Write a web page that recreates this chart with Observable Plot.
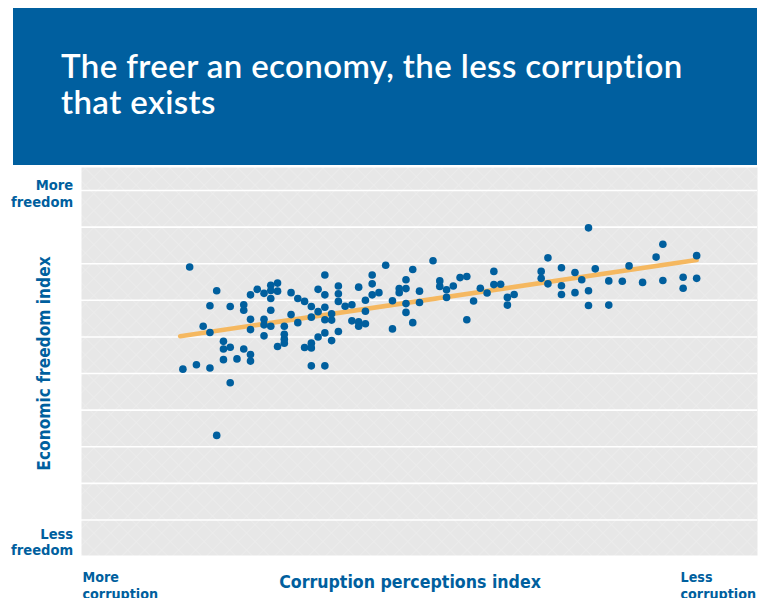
<!DOCTYPE html>
<html>
<head>
<meta charset="utf-8">
<script src="https://cdn.jsdelivr.net/npm/d3@7"></script>
<script src="https://cdn.jsdelivr.net/npm/@observablehq/plot@0.6"></script>
<style>
  html, body { margin: 0; padding: 0; background: #ffffff; }
  #wrap { position: relative; width: 762px; height: 598px; overflow: hidden; }
  #header { position: relative; width: 762px; height: 167px; }
  #titlebox { position: absolute; left: 13px; top: 8px; width: 744px; height: 157px; background: #005f9f; }
  #title { position: absolute; left: 48px; top: 40px; margin: 0; color: #ffffff;
           font-family: Lato, "Open Sans", sans-serif; font-weight: 600; font-size: 33px;
           line-height: 35.7px; letter-spacing: 0.4px; }
  #chart svg { display: block; }
</style>
</head>
<body>
<div id="wrap">
  <div id="header"><div id="titlebox"><h1 id="title">The freer an economy, the less corruption<br>that exists</h1></div></div>
  <div id="chart"></div>
</div>
<script>
// Corruption perceptions index (x) and economic freedom index (y), one entry per country
const cpi = [16,20,19,22,18,19,15,17,19,22,21,21,22,21,23,24,25,25,24,24,25,26,27,28,29,28,29,28,28,25,25,27,27,28,27,30,30,30,30,29,31,32,31,32,33,34,33,34,34,34,35,36,36,38,38,38,35,36,37,35,36,36,34,37,37,39,40,41,40,41,41,42,42,42,43,43,43,44,38,36,45,49,48,48,47,47,50,46,48,50,48,49,46,52,53,53,54,54,55,56,57,61,59,60,61,62,58,57,63,63,64,69,68,68,69,71,71,71,73,76,74,73,75,75,78,78,80,81,83,85,86,86,89,89,91,91,75,20];
const freedom = [79.1,72.6,68.5,68.3,62.9,61.2,51.2,52.4,51.5,47.5,58.8,56.7,57.2,53.8,54.0,56.7,55.2,53.4,68.8,67.3,71.5,73.0,71.9,74.1,74.7,72.7,72.5,70.5,67.3,64.8,62.0,64.8,63.3,62.9,60.3,62.9,60.7,59.4,58.3,57.4,66.1,63.9,72.1,70.5,69.7,68.3,57.1,58.3,57.0,52.1,73.0,76.9,71.5,73.9,71.8,69.7,60.0,61.1,59.0,66.9,64.7,68.1,65.4,66.3,64.6,68.4,68.8,73.6,64.4,64.1,62.9,63.6,70.0,67.0,76.9,74.5,71.5,72.1,61.5,52.1,79.6,78.4,75.6,73.2,73.2,72.1,72.5,69.9,69.1,69.4,66.7,63.9,62.2,80.8,75.3,73.8,72.9,70.8,73.9,76.2,76.5,77.9,73.3,72.0,74.3,74.4,69.8,64.7,70.8,68.7,71.6,81.6,77.9,76.0,74.5,78.9,74.0,71.6,77.6,78.6,75.6,72.1,72.6,68.6,75.3,68.7,75.2,79.4,74.9,81.8,85.3,75.4,76.3,73.3,82.2,76.0,89.8,33.1];
// Trend line end points (as drawn on the original)
const trendX = [14.6, 91.0];
const trendY = [60.2, 81.0];
// Grid values
const gridY = [10,20,30,40,50,60,70,80,90,100];

const points = cpi.map((c, i) => ({cpi: c, freedom: freedom[i]}));
const trend = trendX.map((x, i) => ({cpi: x, freedom: trendY[i]}));

const blue = "#005f9e";
const labelFont = "'Liberation Sans Narrow', 'DejaVu Sans Condensed', 'Roboto', sans-serif";
const tight = {letterSpacing: "-0.3px"};

const plot = Plot.plot({
  width: 762,
  height: 431,
  marginLeft: 81,
  marginRight: 5,
  marginTop: 0,
  marginBottom: 43,
  x: {domain: [0, 100], axis: null},
  y: {domain: [0.3, 106.28], axis: null},
  style: {background: "transparent", overflow: "visible"},
  marks: [
    Plot.frame({fill: "#e7e7e7", stroke: null}),
    Plot.ruleY(gridY, {stroke: "#ffffff", strokeWidth: 1.6}),
    Plot.line(trend, {x: "cpi", y: "freedom", stroke: "#f5b860", strokeWidth: 4.6, strokeLinecap: "round"}),
    Plot.dot(points, {x: "cpi", y: "freedom", r: 3.8, fill: blue, stroke: null}),
    Plot.text(["More\nfreedom"], {frameAnchor: "top-left", text: d => d, textAnchor: "end", lineAnchor: "top", dx: -8.3, dy: 10, lineHeight: 1.2, fontSize: 14.6, fontWeight: "bold", fontFamily: labelFont, fill: blue, ...tight}),
    Plot.text(["Less\nfreedom"], {frameAnchor: "top-left", text: d => d, textAnchor: "end", lineAnchor: "top", dx: -8.3, dy: 359.3, lineHeight: 1.14, fontSize: 14.6, fontWeight: "bold", fontFamily: labelFont, fill: blue, ...tight}),
    Plot.text(["More\ncorruption"], {frameAnchor: "top-left", text: d => d, textAnchor: "start", lineAnchor: "top", dx: 1, dy: 403, lineHeight: 1.17, fontSize: 14.2, fontWeight: "bold", fontFamily: labelFont, fill: blue, ...tight}),
    Plot.text(["Less\ncorruption"], {frameAnchor: "top-left", text: d => d, textAnchor: "start", lineAnchor: "top", dx: 599, dy: 403, lineHeight: 1.17, fontSize: 14.2, fontWeight: "bold", fontFamily: labelFont, fill: blue, ...tight}),
    Plot.text(["Corruption perceptions index"], {frameAnchor: "top-left", text: d => d, textAnchor: "middle", lineAnchor: "top", dx: 328.5, dy: 407.8, fontSize: 17.6, fontWeight: "bold", fontFamily: labelFont, fill: blue, ...tight}),
    Plot.text(["Economic freedom index"], {frameAnchor: "left", text: d => d, textAnchor: "middle", lineAnchor: "middle", rotate: -90, dx: -37, dy: 2, fontSize: 17.2, fontWeight: "bold", fontFamily: labelFont, fill: blue, ...tight})
  ]
});

// subtle cross-hatch texture on the plot background
const ns = "http://www.w3.org/2000/svg";
const defs = document.createElementNS(ns, "defs");
defs.innerHTML = '<pattern id="hatch" width="12" height="12" patternUnits="userSpaceOnUse" patternTransform="rotate(45)">' +
  '<rect width="12" height="12" fill="#e7e7e7"></rect>' +
  '<line x1="0" y1="0" x2="12" y2="0" stroke="#eeeeee" stroke-width="1.2"></line>' +
  '<line x1="0" y1="0" x2="0" y2="12" stroke="#eeeeee" stroke-width="1.2"></line></pattern>';
plot.insertBefore(defs, plot.firstChild);
const fr = plot.querySelector('[aria-label="frame"] rect') || plot.querySelector('rect[aria-label="frame"]');
if (fr) fr.setAttribute("fill", "url(#hatch)");

document.getElementById("chart").appendChild(plot);
</script>
</body>
</html>
